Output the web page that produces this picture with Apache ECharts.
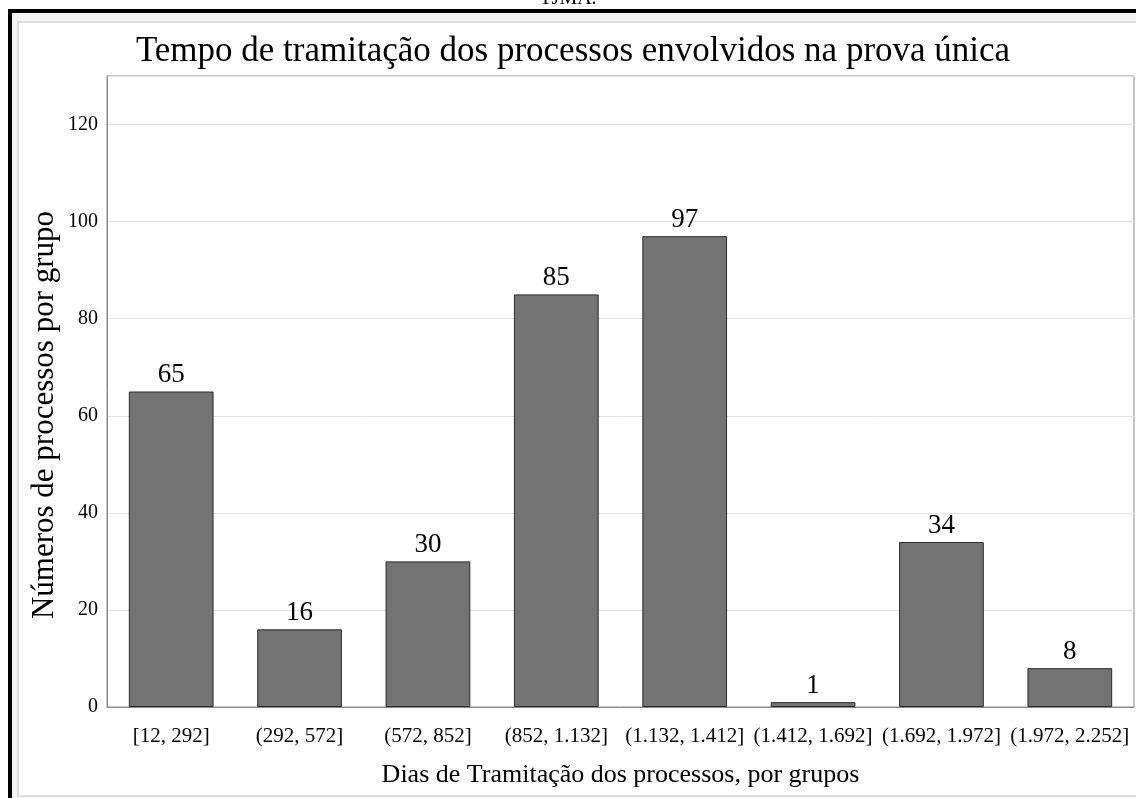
<!DOCTYPE html>
<html>
<head>
<meta charset="utf-8">
<script src="https://cdn.jsdelivr.net/npm/echarts@6/dist/echarts.min.js"></script>
<style>html,body{margin:0;padding:0;background:#fff}#c{width:1136px;height:798px}</style>
</head>
<body>
<div id="c"></div>
<script>
const categories = ['[12, 292]', '(292, 572]', '(572, 852]', '(852, 1.132]', '(1.132, 1.412]', '(1.412, 1.692]', '(1.692, 1.972]', '(1.972, 2.252]'];
const counts = [65, 16, 30, 85, 97, 1, 34, 8];
const yTicks = { min: 0, max: 130, interval: 20 };
const titleText = 'Tempo de tramitação dos processos envolvidos na prova única';
const xName = 'Dias de Tramitação dos processos, por grupos';
const yName = 'Números de processos por grupo';
const topNote = 'TJMA.';

const FONT = '"Liberation Serif", "Times New Roman", serif';
const chart = echarts.init(document.getElementById('c'));
chart.setOption({
  animation: false,
  backgroundColor: '#ffffff',
  textStyle: { fontFamily: FONT },
  graphic: [
    { type: 'rect', z: -10, shape: { x: 8, y: 9, width: 1128, height: 789 }, style: { fill: '#000' } },
    { type: 'rect', z: -9, shape: { x: 12, y: 13, width: 1124, height: 785 }, style: { fill: '#f4f4f4' } },
    { type: 'rect', z: -8, shape: { x: 18, y: 22, width: 1130, height: 774 }, style: { fill: '#fff', stroke: '#dedede', lineWidth: 2 } },
    { type: 'text', z: 5, left: 'center', top: -11, style: { text: topNote, font: '20px ' + FONT, fill: '#000' } },
    { type: 'text', z: 5, x: 45, y: 415, rotation: Math.PI / 2,
      style: { text: yName, font: '31px ' + FONT, fill: '#000', textAlign: 'center', textVerticalAlign: 'middle' } }
  ],
  title: {
    text: titleText,
    left: 568, top: 29, textAlign: 'center',
    textStyle: { fontFamily: FONT, fontSize: 35, fontWeight: 'normal', color: '#000' }
  },
  grid: {
    left: 107, top: 76, right: 2, bottom: 91,
    show: true, borderColor: '#8a8a8a', borderWidth: 1, backgroundColor: 'transparent'
  },
  xAxis: {
    type: 'category',
    data: categories,
    name: xName,
    nameLocation: 'middle',
    nameGap: 55,
    nameTextStyle: { fontFamily: FONT, fontSize: 26, color: '#000' },
    axisLine: { lineStyle: { color: '#8a8a8a' } },
    axisTick: { show: false },
    axisLabel: { fontFamily: FONT, fontSize: 21, color: '#000', margin: 19, interval: 0 }
  },
  yAxis: {
    type: 'value',
    min: yTicks.min, max: yTicks.max, interval: yTicks.interval,
    axisLine: { show: true, lineStyle: { color: '#8a8a8a' } },
    axisTick: { show: false },
    axisLabel: { fontFamily: FONT, fontSize: 20, color: '#000', margin: 9, showMaxLabel: false },
    splitLine: { lineStyle: { color: '#e3e3e3' } }
  },
  series: [{
    type: 'bar',
    data: counts,
    barWidth: '66%',
    itemStyle: { color: '#737373', borderColor: '#2a2a2a', borderWidth: 1 },
    label: { show: true, position: 'top', distance: 3, fontFamily: FONT, fontSize: 27, color: '#000' }
  }]
});
</script>
</body>
</html>
